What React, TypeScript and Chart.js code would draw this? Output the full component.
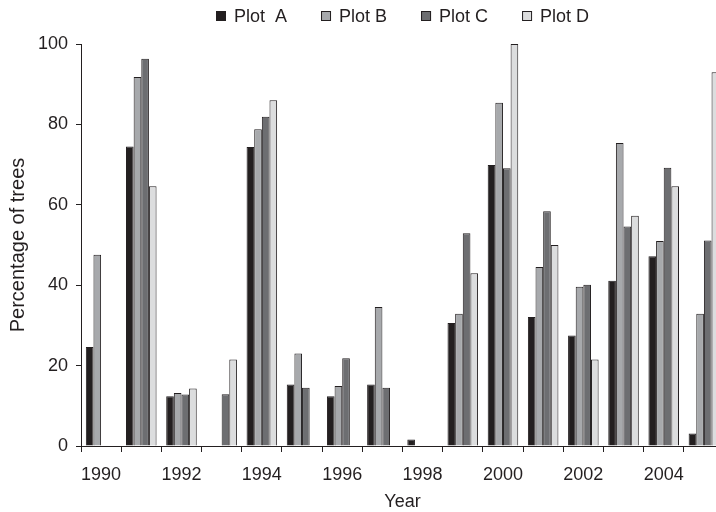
import React, { useEffect, useRef } from 'react';
import { Chart, registerables } from 'chart.js';

Chart.register(...registerables);

const years = ['1990', '1991', '1992', '1993', '1994', '1995', '1996', '1997', '1998', '1999', '2000', '2001', '2002', '2003', '2004', '2005'];
const plotA = [24.6, 74.5, 12.4, null, 74.4, 15.3, 12.4, 15.3, 1.6, 30.6, 69.9, 32.1, 27.5, 41.1, 47.2, 3.1];
const plotB = [47.6, 91.8, 13.2, null, 78.8, 23.0, 14.9, 34.6, null, 32.9, 85.4, 44.5, 39.6, 75.4, 51.0, 32.9];
const plotC = [null, 96.3, 12.8, 12.9, 81.9, 14.5, 21.8, 14.5, null, 52.9, 69.1, 58.4, 40.1, 54.6, 69.2, 51.1];
const plotD = [null, 64.6, 14.3, 21.5, 86.0, null, null, null, null, 43.0, 100, 50.0, 21.5, 57.3, 64.6, 93.0];
const seriesNames = ['Plot  A', 'Plot B', 'Plot C', 'Plot D'];
const seriesColors = ['#231f20', '#a7a9ac', '#6d6e71', '#dcddde'];
const yMin = 0;
const yMax = 100;
const yStep = 20;

const FONT = "'Liberation Sans', Arial, Helvetica, sans-serif";
const INK = '#231f20';

const legendPlugin = {
  id: 'customLegend',
  afterDraw(chart: any) {
    const ctx = chart.ctx;
    ctx.save();
    ctx.font = `18px ${FONT}`;
    const box = 10;
    const gapText = 8;
    const gapItem = 34;
    const items = chart.data.datasets.map((ds: any) => ({
      label: ds.label,
      color: ds.backgroundColor,
      w: box + gapText + ctx.measureText(ds.label).width,
    }));
    const total = items.reduce((s: number, it: any) => s + it.w, 0) + gapItem * (items.length - 1);
    let x = Math.round((chart.chartArea.left + chart.chartArea.right) / 2 - total / 2);
    const y = 16;
    items.forEach((it: any) => {
      ctx.fillStyle = it.color;
      ctx.fillRect(x, y - 5, box, box);
      ctx.strokeStyle = INK;
      ctx.lineWidth = 1;
      ctx.strokeRect(x + 0.5, y - 4.5, box - 1, box - 1);
      ctx.fillStyle = INK;
      ctx.textBaseline = 'middle';
      ctx.textAlign = 'left';
      ctx.fillText(it.label, x + box + gapText, y + 1);
      x += it.w + gapItem;
    });
    ctx.restore();
  },
};

export default function App() {
  const ref = useRef<HTMLCanvasElement | null>(null);

  useEffect(() => {
    if (!ref.current) return;
    const series = [plotA, plotB, plotC, plotD];
    const chart = new Chart(ref.current, {
      type: 'bar',
      data: {
        labels: years,
        datasets: series.map((d, i) => ({
          label: seriesNames[i],
          data: d,
          backgroundColor: seriesColors[i],
          borderColor: INK,
          borderWidth: 1,
          categoryPercentage: 0.76,
          barPercentage: 1.0,
        })),
      },
      options: {
        responsive: false,
        animation: false,
        devicePixelRatio: 1,
        layout: { padding: { top: 44, right: 6, bottom: 0, left: 0 } },
        plugins: {
          legend: { display: false },
          tooltip: { enabled: false },
        },
        scales: {
          x: {
            type: 'category',
            offset: true,
            afterFit: (s: any) => {
              s.height = 66;
            },
            grid: {
              offset: true,
              drawOnChartArea: false,
              drawTicks: true,
              tickLength: 6,
              color: INK,
              lineWidth: 1,
            },
            border: { display: true, color: INK, width: 1 },
            ticks: {
              autoSkip: false,
              maxRotation: 0,
              color: INK,
              font: { family: FONT, size: 18 },
              padding: 12,
              callback: function (this: any, v: any, i: number) {
                return i % 2 === 0 ? this.getLabelForValue(v) : '';
              },
            },
            title: {
              display: true,
              text: 'Year',
              color: INK,
              font: { family: FONT, size: 18, lineHeight: 1.0 },
              padding: { top: 2, bottom: 1 },
            },
          },
          y: {
            min: yMin,
            max: yMax,
            afterFit: (s: any) => {
              s.width = 81;
            },
            grid: {
              drawOnChartArea: false,
              drawTicks: true,
              tickLength: 5,
              color: INK,
              lineWidth: 1,
            },
            border: { display: true, color: INK, width: 1 },
            ticks: {
              stepSize: yStep,
              color: INK,
              font: { family: FONT, size: 18 },
              padding: 8,
            },
            title: {
              display: true,
              text: 'Percentage of trees',
              color: INK,
              font: { family: FONT, size: 20 },
              padding: { top: 6, bottom: 0 },
            },
          },
        },
      },
      plugins: [legendPlugin],
    } as any);
    return () => chart.destroy();
  }, []);

  return (
    <div
      style={{
        position: 'fixed',
        left: 0,
        top: 0,
        width: 716,
        height: 512,
        overflow: 'hidden',
        background: '#fff',
      }}
    >
      <canvas ref={ref} width={730} height={512} style={{ display: 'block', width: 730, height: 512 }} />
    </div>
  );
}
